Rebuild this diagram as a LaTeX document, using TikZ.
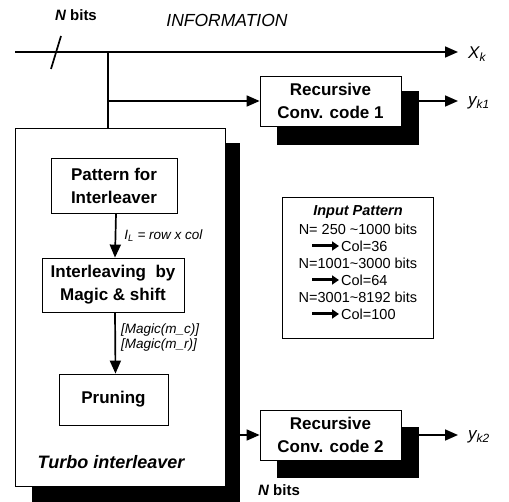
\documentclass[tikz,border=0pt]{standalone}
\usepackage{fontspec}
\setmainfont{Liberation Sans}
\usetikzlibrary{arrows.meta}
\begin{document}
\begin{tikzpicture}[x=1pt,y=1pt,
 box/.style={draw, fill=white, line width=0.8pt, font=\bfseries\fontsize{17}{23}\selectfont, align=center, inner sep=0pt},
 arr/.style={line width=1.7pt, -{Triangle[length=13pt,width=11pt]}},
 smallarr/.style={line width=3pt, -{Triangle[length=7pt,width=9pt]}},
 lbl/.style={font=\itshape\fontsize{13.5}{15}\selectfont, inner sep=0pt},
 pat/.style={font=\fontsize{14.5}{16}\selectfont, inner sep=0pt}]
\useasboundingbox (0,0) rectangle (509,-502);
% shadows
\fill (277,-91) rectangle (419,-145);
\fill (277,-427) rectangle (419,-478);
\fill (32,-143) rectangle (240,-502);
% boxes
\node[box, minimum width=210pt, minimum height=358pt] (tb) at (120,-307) {};
\node[box, minimum width=141pt, minimum height=50pt] (c1) at (330.5,-101) {Recursive\\Conv. code 1};
\node[box, minimum width=141pt, minimum height=50pt] (c2) at (330.5,-435) {Recursive\\Conv. code 2};
\node[box, minimum width=126pt, minimum height=55pt] (pa) at (114,-185.5) {Pattern for\\Interleaver};
\node[box, minimum width=142pt, minimum height=54pt] (il) at (113,-285) {Interleaving\ \ by\\Magic \& shift};
\node[box, minimum width=109pt, minimum height=51pt] (pr) at (113.5,-399.5) {Pruning};
\node[font=\bfseries\itshape\fontsize{18}{20}\selectfont, inner sep=0pt] (tl) at (111,-462) {Turbo interleaver};
% input pattern box
\node[draw, line width=0.8pt, minimum width=151pt, minimum height=141pt, inner sep=0pt] (ip) at (358,-268) {};
\node[pat, font=\bfseries\itshape\fontsize{14.5}{16}\selectfont] (ip1) at (358,-212) {Input Pattern};
\node[pat] (ip2) at (358,-229) {N= 250 \textasciitilde1000 bits};
\node[pat, anchor=west] (ip3) at (341,-246) {Col=36};
\node[pat] (ip4) at (358,-263) {N=1001\textasciitilde3000 bits};
\node[pat, anchor=west] (ip5) at (341,-280) {Col=64};
\node[pat] (ip6) at (358,-297) {N=3001\textasciitilde8192 bits};
\node[pat, anchor=west] (ip7) at (341,-314) {Col=100};
\coordinate (a3) at (312,-246);
\coordinate (a5) at (312,-280);
\coordinate (a7) at (312,-314);
\draw[smallarr] (a3) -- ([xshift=-2pt]ip3.west);
\draw[smallarr] (a5) -- ([xshift=-2pt]ip5.west);
\draw[smallarr] (a7) -- ([xshift=-2pt]ip7.west);
% top line
\coordinate (in) at (15,-52);
\node[font=\itshape\fontsize{17}{18}\selectfont, anchor=west, inner sep=0pt] (xk) at (468,-54) {X\textsubscript{\itshape k}};
\draw[arr] (in) -- (458,-52) coordinate (xe);
\coordinate (br) at (108,-52);
\coordinate (br2) at (108,-101);
\draw[line width=1.7pt] (br) -- (br |- tb.north);
\draw[arr] (br2) -- (c1.west);
% slash
\coordinate (s1) at (51,-69);
\coordinate (s2) at (61,-36);
\draw[line width=1.7pt] (s1) -- (s2);
\node[font=\bfseries\fontsize{15}{17}\selectfont, inner sep=0pt] (nb) at (76,-15) {\itshape N\upshape\ bits};
\node[font=\itshape\fontsize{17.5}{19}\selectfont, inner sep=0pt] (info) at (227,-20) {INFORMATION};
% outputs
\node[font=\itshape\fontsize{17}{18}\selectfont, anchor=west, inner sep=0pt] (y1) at (468,-103) {y\textsubscript{\itshape k1}};
\node[font=\itshape\fontsize{17}{18}\selectfont, anchor=west, inner sep=0pt] (y2) at (468,-437) {y\textsubscript{\itshape k2}};
\coordinate (o1) at (419,-101);
\coordinate (o2) at (419,-435);
\draw[arr] (o1) -- (458,-101);
\draw[arr] (o2) -- (458,-435);
% interleaver to conv2
\coordinate (t2) at (240,-435);
\draw[arr] (t2) -- (c2.west);
\node[font=\bfseries\fontsize{15}{17}\selectfont, inner sep=0pt, anchor=west] (nb2) at (258,-490) {\itshape N\upshape\ bits};
% internal arrows
\draw[arr] ([xshift=2pt]pa.south) -- ([xshift=2pt]il.north) node[midway, right=8pt, lbl] (il1) {I\textsubscript{L} = row x col};
\draw[arr] ([xshift=2pt]il.south) -- ([xshift=2pt]pr.north);
\node[lbl, anchor=west] (m1) at (121,-330) {[Magic(m\_c)]};
\node[lbl, anchor=west] (m2) at (121,-345) {[Magic(m\_r)]};
\end{tikzpicture}
\end{document}
